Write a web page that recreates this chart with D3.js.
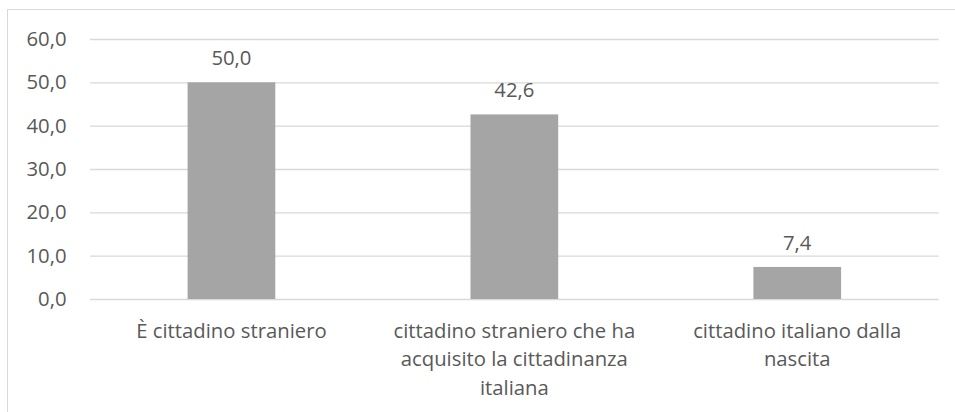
<!DOCTYPE html>
<html><head><meta charset="utf-8">
<script src="https://cdn.jsdelivr.net/npm/d3@7"></script>
<style>
html,body{margin:0;padding:0;background:#fff;}
svg text{font-family:"Open Sans",sans-serif;fill:#595959;}
</style></head>
<body>
<svg id="c" width="955" height="412"></svg>
<script>
const categories = ["È cittadino straniero", "cittadino straniero che ha acquisito la cittadinanza italiana", "cittadino italiano dalla nascita"];
const values = [50.0, 42.6, 7.4];
const yTicks = [0, 10, 20, 30, 40, 50, 60];

const W = 955, H = 412;
const FS = 20.3;
const m = {left: 90, right: 16.3, top: 39, bottom: 113};
const svg = d3.select("#c");
const locale = d3.formatLocale({decimal: ",", thousands: ".", grouping: [3], currency: ["€", ""]});
const fmt = locale.format(".1f");

// frame
svg.append("rect").attr("x", 7.5).attr("y", 9.5).attr("width", W).attr("height", H)
  .attr("fill", "none").attr("stroke", "#d9d9d9").attr("stroke-width", 1);

const x = d3.scaleBand().domain(categories).range([m.left, W - m.right]).paddingInner(0.69).paddingOuter(0.345);
const y = d3.scaleLinear().domain([0, 60]).range([H - m.bottom, m.top]);

// gridlines
const yAxis = d3.axisLeft(y).tickValues(yTicks).tickFormat(fmt).tickSize(-(W - m.right - m.left)).tickPadding(23.5);
const ga = svg.append("g").attr("transform", `translate(${m.left},0)`).call(yAxis);
ga.select(".domain").remove();
ga.selectAll(".tick line").attr("stroke", "#d9d9d9").attr("stroke-width", 1.3);
ga.selectAll(".tick text").attr("font-size", FS).attr("fill", "#595959").style("font-family", "'Open Sans',sans-serif");

// bars
svg.append("g").selectAll("rect").data(values).join("rect")
  .attr("x", (d, i) => x(categories[i]))
  .attr("y", d => y(d))
  .attr("width", x.bandwidth())
  .attr("height", d => y(0) - y(d))
  .attr("fill", "#a5a5a5");

// value labels
svg.append("g").selectAll("text").data(values).join("text")
  .attr("x", (d, i) => x(categories[i]) + x.bandwidth() / 2)
  .attr("y", d => y(d) - 17)
  .attr("text-anchor", "middle").attr("font-size", FS)
  .text(d => fmt(d));

// category labels with wrap
const maxW = 262;
const cg = svg.append("g");
categories.forEach((c, i) => {
  const t = cg.append("text").attr("text-anchor", "middle").attr("font-size", FS)
    .attr("x", x(c) + x.bandwidth() / 2).attr("y", y(0) + 38.5);
  const words = c.split(" ");
  let line = [];
  let ts = t.append("tspan").attr("x", x(c) + x.bandwidth() / 2).attr("dy", 0);
  words.forEach(w => {
    line.push(w);
    ts.text(line.join(" "));
    if (ts.node().getComputedTextLength() > maxW && line.length > 1) {
      line.pop();
      ts.text(line.join(" "));
      line = [w];
      ts = t.append("tspan").attr("x", x(c) + x.bandwidth() / 2).attr("dy", 28.5).text(w);
    }
  });
});
</script>
</body></html>
